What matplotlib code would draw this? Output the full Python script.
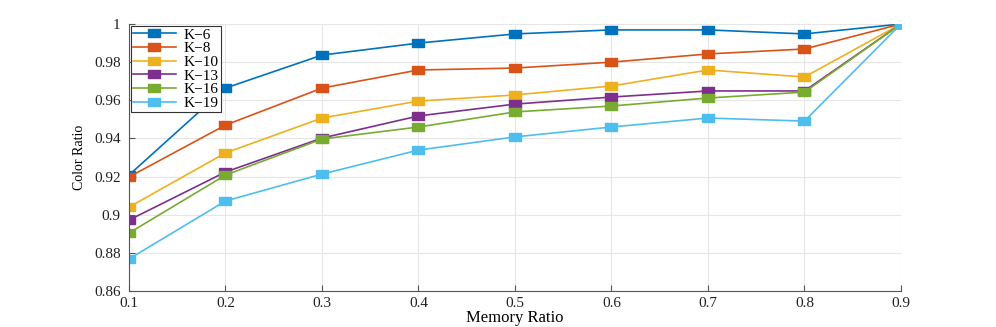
import numpy as np
import matplotlib.pyplot as plt
from matplotlib.path import Path
from matplotlib.ticker import FuncFormatter

plt.rcParams['font.family'] = ['Liberation Serif', 'DejaVu Serif']

memory_ratio = [0.1, 0.2, 0.3, 0.4, 0.5, 0.6, 0.7, 0.8, 0.9]
labels = ['K\u22126', 'K\u22128', 'K\u221210', 'K\u221213', 'K\u221216', 'K\u221219']

k6 = [0.9208, 0.9664, 0.9837, 0.9900, 0.9948, 0.9969, 0.9969, 0.9948, 1.0]
k8 = [0.9198, 0.9470, 0.9664, 0.9759, 0.9769, 0.9800, 0.9843, 0.9869, 1.0]
k10 = [0.9040, 0.9324, 0.9507, 0.9596, 0.9628, 0.9675, 0.9759, 0.9722, 1.0]
k13 = [0.8972, 0.9224, 0.9402, 0.9518, 0.9580, 0.9617, 0.9649, 0.9649, 1.0]
k16 = [0.8904, 0.9208, 0.9397, 0.9460, 0.9539, 0.9570, 0.9612, 0.9643, 1.0]
k19 = [0.8768, 0.9072, 0.9213, 0.9339, 0.9408, 0.9460, 0.9507, 0.9491, 1.0]

colors = ['#0072BD', '#D95319', '#EDB120', '#7E2F8E', '#77AC30', '#4DBEEE']

# wide square marker (the original image is stretched horizontally)
box = Path([(-1.5, -1), (1.5, -1), (1.5, 1), (-1.5, 1), (-1.5, -1)],
           [Path.MOVETO, Path.LINETO, Path.LINETO, Path.LINETO, Path.CLOSEPOLY])

fig = plt.figure(figsize=(9.96, 3.27), dpi=100)
ax = fig.add_axes([0.1295, 0.110, 0.7751, 0.8166])

for ys, lab, c in zip([k6, k8, k10, k13, k16, k19], labels, colors):
    ax.plot(memory_ratio, ys, color=c, marker=box, markersize=8, linewidth=1.2, label=lab)

ax.set_xlim(0.1, 0.9)
ax.set_ylim(0.86, 1.0)
ax.set_xticks(memory_ratio)
ax.set_yticks(np.arange(0.86, 1.001, 0.02))
fmt = FuncFormatter(lambda v, p: '%g' % round(v, 2))
ax.xaxis.set_major_formatter(fmt)
ax.yaxis.set_major_formatter(fmt)

ax.grid(True, color='#e6e6e6', linewidth=0.8)
ax.set_axisbelow(True)
for s in ['top', 'right']:
    ax.spines[s].set_visible(False)
for s in ['left', 'bottom']:
    ax.spines[s].set_color('#555555')
ax.tick_params(direction='in', length=4, colors='#555555', labelcolor='#222222', labelsize=11)
ax.tick_params(axis='x', pad=4)
ax.tick_params(axis='y', pad=6)

ax.set_xlabel('Memory Ratio', fontsize=12, labelpad=0)
ax.set_ylabel('Color Ratio', fontsize=10, labelpad=6)

leg = ax.legend(loc='upper left', fontsize=11, borderaxespad=0.1, handlelength=2.8,
                labelspacing=0.0, borderpad=0.15, handletextpad=0.5,
                fancybox=False, framealpha=1)
leg.get_frame().set_edgecolor('#333333')
leg.get_frame().set_linewidth(0.8)

fig.savefig('out.png', dpi=100)
